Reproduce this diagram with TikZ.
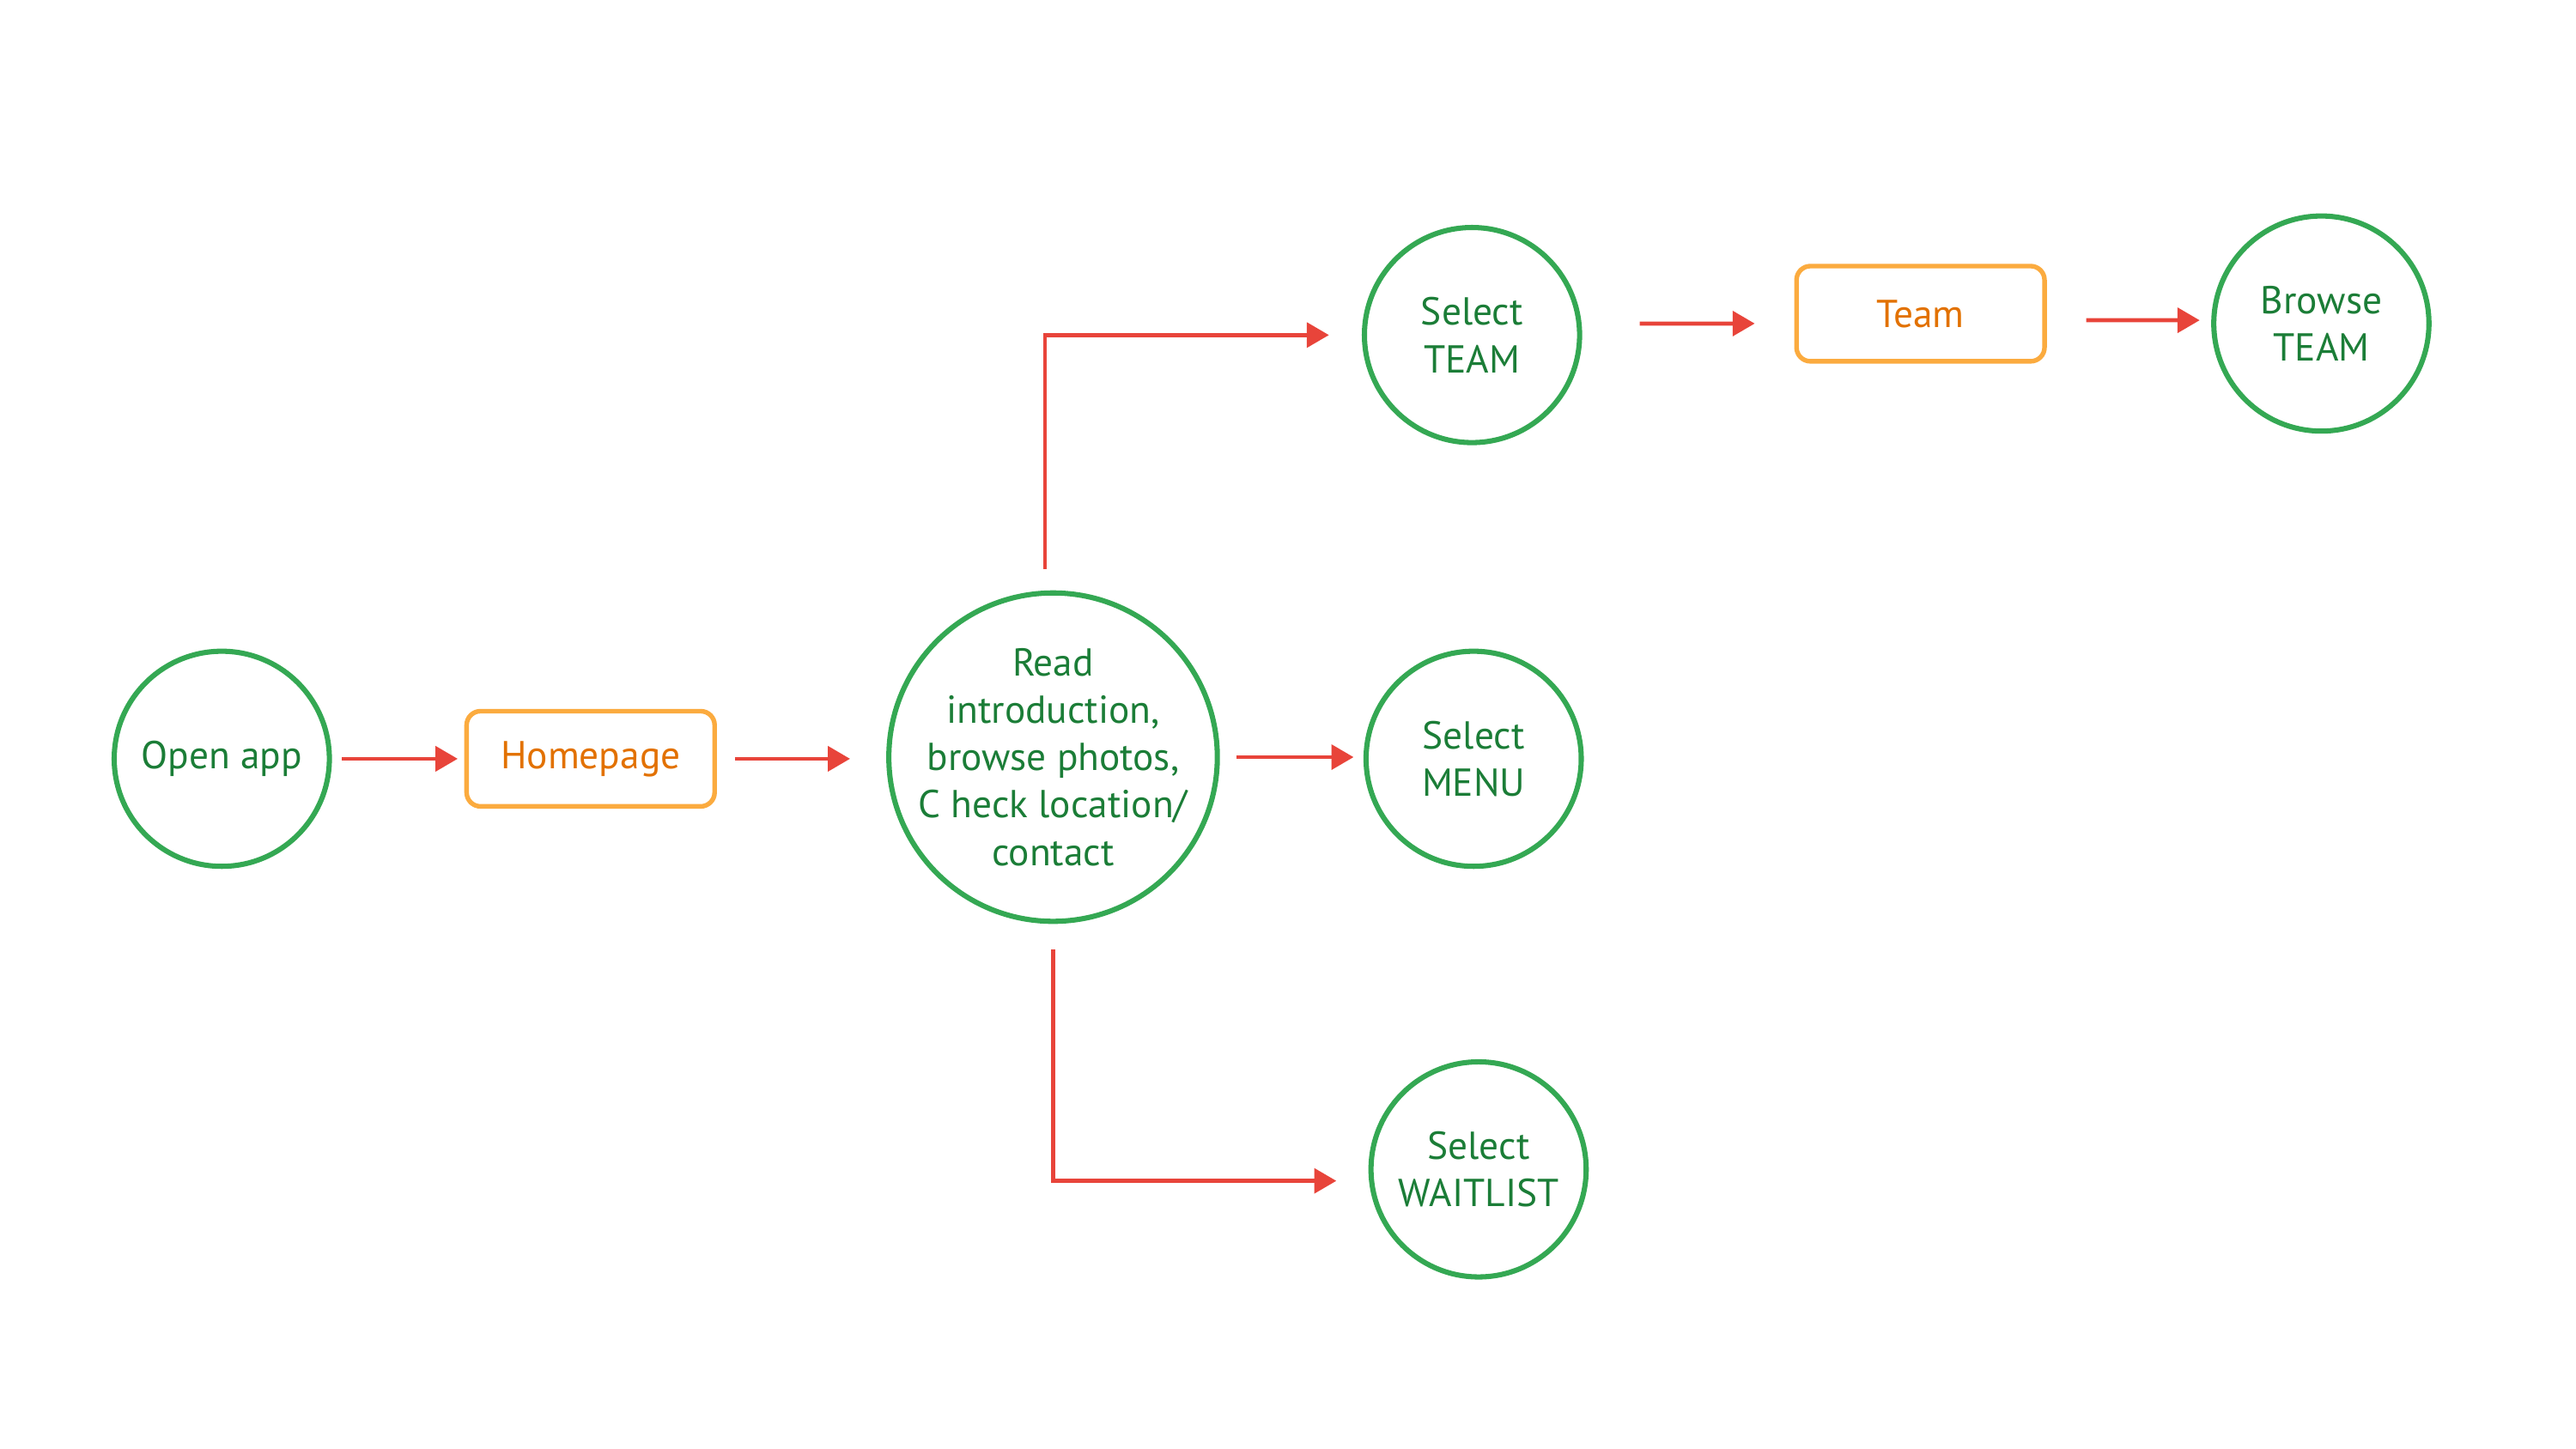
\documentclass[tikz,border=0pt]{standalone}
\usepackage{fontspec}
\setmainfont{PT Sans}
\usetikzlibrary{arrows.meta}

\definecolor{stategreen}{HTML}{34A853}
\definecolor{textgreen}{HTML}{1B7D37}
\definecolor{pageorange}{HTML}{FBAB3F}
\definecolor{textorange}{HTML}{E27100}
\definecolor{flowred}{HTML}{E8443A}

\begin{document}
\begin{tikzpicture}[x=0.02cm,y=-0.02cm,
      state/.style={circle,draw=stategreen,line width=1.8pt,text=textgreen,
        minimum size=2.62cm,inner sep=0pt,align=center,
        font=\fontsize{13.5}{16.4}\selectfont},
      page/.style={rectangle,rounded corners=0.17cm,draw=pageorange,line width=1.6pt,
        text=textorange,minimum width=3.02cm,minimum height=1.16cm,
        font=\fontsize{13.5}{16.4}\selectfont},
      flow/.style={draw=flowred,line width=1.4pt,-{Triangle[length=0.27cm,width=0.3cm]}}]
    \useasboundingbox (0,0) rectangle (1568,882);

    \node[state] (open) at (135,462) {Open app};
    \node[page] (home) at (359.5,462) {Homepage};
    \node[state,minimum size=4.0cm,inner sep=-0.16cm] (read) at (641,461)
      {Read\\introduction,\\browse photos,\\C heck location/\\contact};
    \node[state] (team) at (896,204) {Select\\TEAM};
    \node[page] (teampage) at (1169,191) {Team};
    \node[state] (browse) at (1413,197) {Browse\\TEAM};
    \node[state] (menu) at (897,462) {Select\\MENU};
    \node[state] (wait) at (900,712) {Select\\WAITLIST};

    % main line
    \draw[flow,shorten <=0.12cm,shorten >=0.08cm] (open.east) -- (home.west);
    \draw[flow,shorten <=0.22cm,shorten >=0.44cm] (home.east) -- (home.east -| read.west);
    \draw[flow,shorten <=0.2cm,shorten >=0.12cm] (read.east) -- (read.east -| menu.west);
    % branches
    \draw[flow,shorten <=0.26cm,shorten >=0.4cm] ([xshift=-0.1cm]read.north) |- (team.west);
    \draw[flow,shorten <=0.31cm,shorten >=0.39cm] (read.south) |- ([yshift=-0.14cm]wait.west);
    \draw[flow,shorten <=0.7cm,shorten >=0.48cm] ([yshift=0.14cm]team.east) -- ([yshift=-0.12cm]teampage.west);
    \draw[flow,shorten <=0.48cm,shorten >=0.14cm] ([yshift=-0.08cm]teampage.east) -- ([yshift=0.04cm]browse.west);
\end{tikzpicture}
\end{document}
